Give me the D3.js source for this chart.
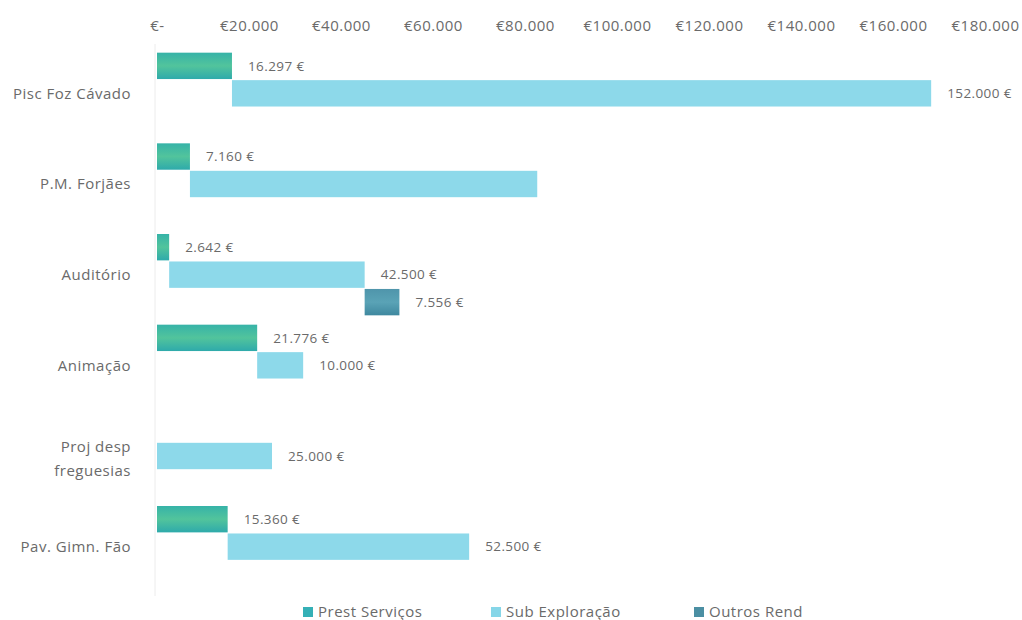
<!DOCTYPE html>
<html>
<head>
<meta charset="utf-8">
<script src="https://cdn.jsdelivr.net/npm/d3@7/dist/d3.min.js"></script>
<style>
  html, body { margin: 0; padding: 0; background: #ffffff; }
  svg { display: block; font-family: "Open Sans", Lato, sans-serif; }
</style>
</head>
<body>
<div id="chart"></div>
<script>
'use strict';

/* Data */
const categories = ['Pisc Foz Cávado', 'P.M. Forjães', 'Auditório', 'Animação', 'Proj desp freguesias', 'Pav. Gimn. Fão'];
const series = ['Prest Serviços', 'Sub Exploração', 'Outros Rend'];
const prestServicos = [16297, 7160, 2642, 21776, 0, 15360];
const subExploracao = [152000, 75500, 42500, 10000, 25000, 52500];
const outrosRend = [0, 0, 7556, 0, 0, 0];
// the source shows no value label for this bar
const hiddenLabels = ['P.M. Forjães|Sub Exploração'];
const tickValues = [0, 20000, 40000, 60000, 80000, 100000, 120000, 140000, 160000, 180000];

/* Config */
const config = {
    width: 1022,
    height: 620,
    textColor: '#6a6a6a',
    colors: {
        'Prest Serviços': 'url(#gradPrest)',
        'Sub Exploração': '#8dd9ea',
        'Outros Rend': 'url(#gradOutros)'
    },
    legendColors: {
        'Prest Serviços': '#35b0b6',
        'Sub Exploração': '#86d6e8',
        'Outros Rend': '#4b8fa3'
    }
};

const locale = d3.formatLocale({ decimal: ',', thousands: '.', grouping: [3], currency: ['€', ''] });
const fmt = locale.format(',.0f');

// build waterfall rows: each series starts where the previous one ended
const rows = [];
categories.forEach((cat, i) => {
    const vals = [prestServicos[i], subExploracao[i], outrosRend[i]];
    let start = 0;
    vals.forEach((v, j) => {
        if (v > 0) {
            rows.push({ category: cat, series: series[j], start: start, end: start + v, value: v });
        }
        start += v;
    });
});

const svg = d3.select('#chart').append('svg')
    .attr('width', config.width)
    .attr('height', config.height);

const defs = svg.append('defs');
const gp = defs.append('linearGradient').attr('id', 'gradPrest')
    .attr('x1', 0).attr('y1', 0).attr('x2', 0).attr('y2', 1);
gp.append('stop').attr('offset', '0%').attr('stop-color', '#36b3a8');
gp.append('stop').attr('offset', '50%').attr('stop-color', '#52c49c');
gp.append('stop').attr('offset', '100%').attr('stop-color', '#2eaaab');

const go = defs.append('linearGradient').attr('id', 'gradOutros')
    .attr('x1', 0).attr('y1', 0).attr('x2', 0).attr('y2', 1);
go.append('stop').attr('offset', '0%').attr('stop-color', '#4f95ab');
go.append('stop').attr('offset', '50%').attr('stop-color', '#5aa3b6');
go.append('stop').attr('offset', '100%').attr('stop-color', '#3f889f');

/* Scales */
const x = d3.scaleLinear().domain([0, 180000]).range([157, 985]);

const y = d3.scaleBand().domain(categories).range([48, 592]).paddingInner(0);
const ySub = d3.scaleBand().domain(series).range([0, y.bandwidth()])
    .paddingInner(0.04).paddingOuter(0.17);

/* Vertical base line */
svg.append('line')
    .attr('x1', 155).attr('x2', 155)
    .attr('y1', 44).attr('y2', 596)
    .attr('stroke', '#ececec')
    .attr('stroke-width', 1);

/* Top axis */
const axis = d3.axisTop(x)
    .tickValues(tickValues)
    .tickSize(0)
    .tickPadding(0)
    .tickFormat(d => d === 0 ? '€-' : '€' + fmt(d));

const axisG = svg.append('g')
    .attr('transform', 'translate(0,31)')
    .call(axis);
axisG.select('.domain').remove();
axisG.selectAll('text')
    .attr('fill', config.textColor)
    .style('font-family', '"Open Sans", sans-serif')
    .style('font-size', '15px')
    .style('letter-spacing', '0.5px');

/* Category labels */
const catG = svg.append('g');
categories.forEach(cat => {
    const cy = y(cat) + ySub('Sub Exploração') + ySub.bandwidth() / 2;
    const lines = cat === 'Proj desp freguesias' ? ['Proj desp', 'freguesias'] : [cat];
    const t = catG.append('text')
        .attr('x', 131)
        .attr('y', cy)
        .attr('text-anchor', 'end')
        .attr('fill', config.textColor)
        .style('font-size', '15px')
        .style('letter-spacing', '0.5px');
    lines.forEach((ln, k) => {
        t.append('tspan')
            .attr('x', 131)
            .attr('dy', k === 0 ? (lines.length === 1 ? '0.35em' : '-0.3em') : '1.6em')
            .text(ln);
    });
});

/* Bars */
svg.append('g').selectAll('rect')
    .data(rows)
    .join('rect')
    .attr('x', d => x(d.start))
    .attr('y', d => y(d.category) + ySub(d.series))
    .attr('width', d => x(d.end) - x(d.start))
    .attr('height', ySub.bandwidth())
    .attr('fill', d => config.colors[d.series]);

/* Value labels */
svg.append('g').selectAll('text')
    .data(rows.filter(d => !hiddenLabels.includes(d.category + '|' + d.series)))
    .join('text')
    .attr('x', d => x(d.end) + 16)
    .attr('y', d => y(d.category) + ySub(d.series) + ySub.bandwidth() / 2)
    .attr('dy', '0.35em')
    .attr('fill', config.textColor)
    .style('font-size', '13.5px')
    .style('letter-spacing', '0.4px')
    .text(d => fmt(d.value) + ' €');

/* Legend */
const legendPos = { 'Prest Serviços': 303, 'Sub Exploração': 491, 'Outros Rend': 694 };
const legend = svg.append('g');
series.forEach(s => {
    legend.append('rect')
        .attr('x', legendPos[s])
        .attr('y', 607)
        .attr('width', 10)
        .attr('height', 10)
        .attr('fill', config.legendColors[s]);
    legend.append('text')
        .attr('x', legendPos[s] + 15)
        .attr('y', 612)
        .attr('dy', '0.35em')
        .attr('fill', config.textColor)
        .style('font-size', '15px')
        .style('letter-spacing', '0.5px')
        .text(s);
});
</script>
</body>
</html>
